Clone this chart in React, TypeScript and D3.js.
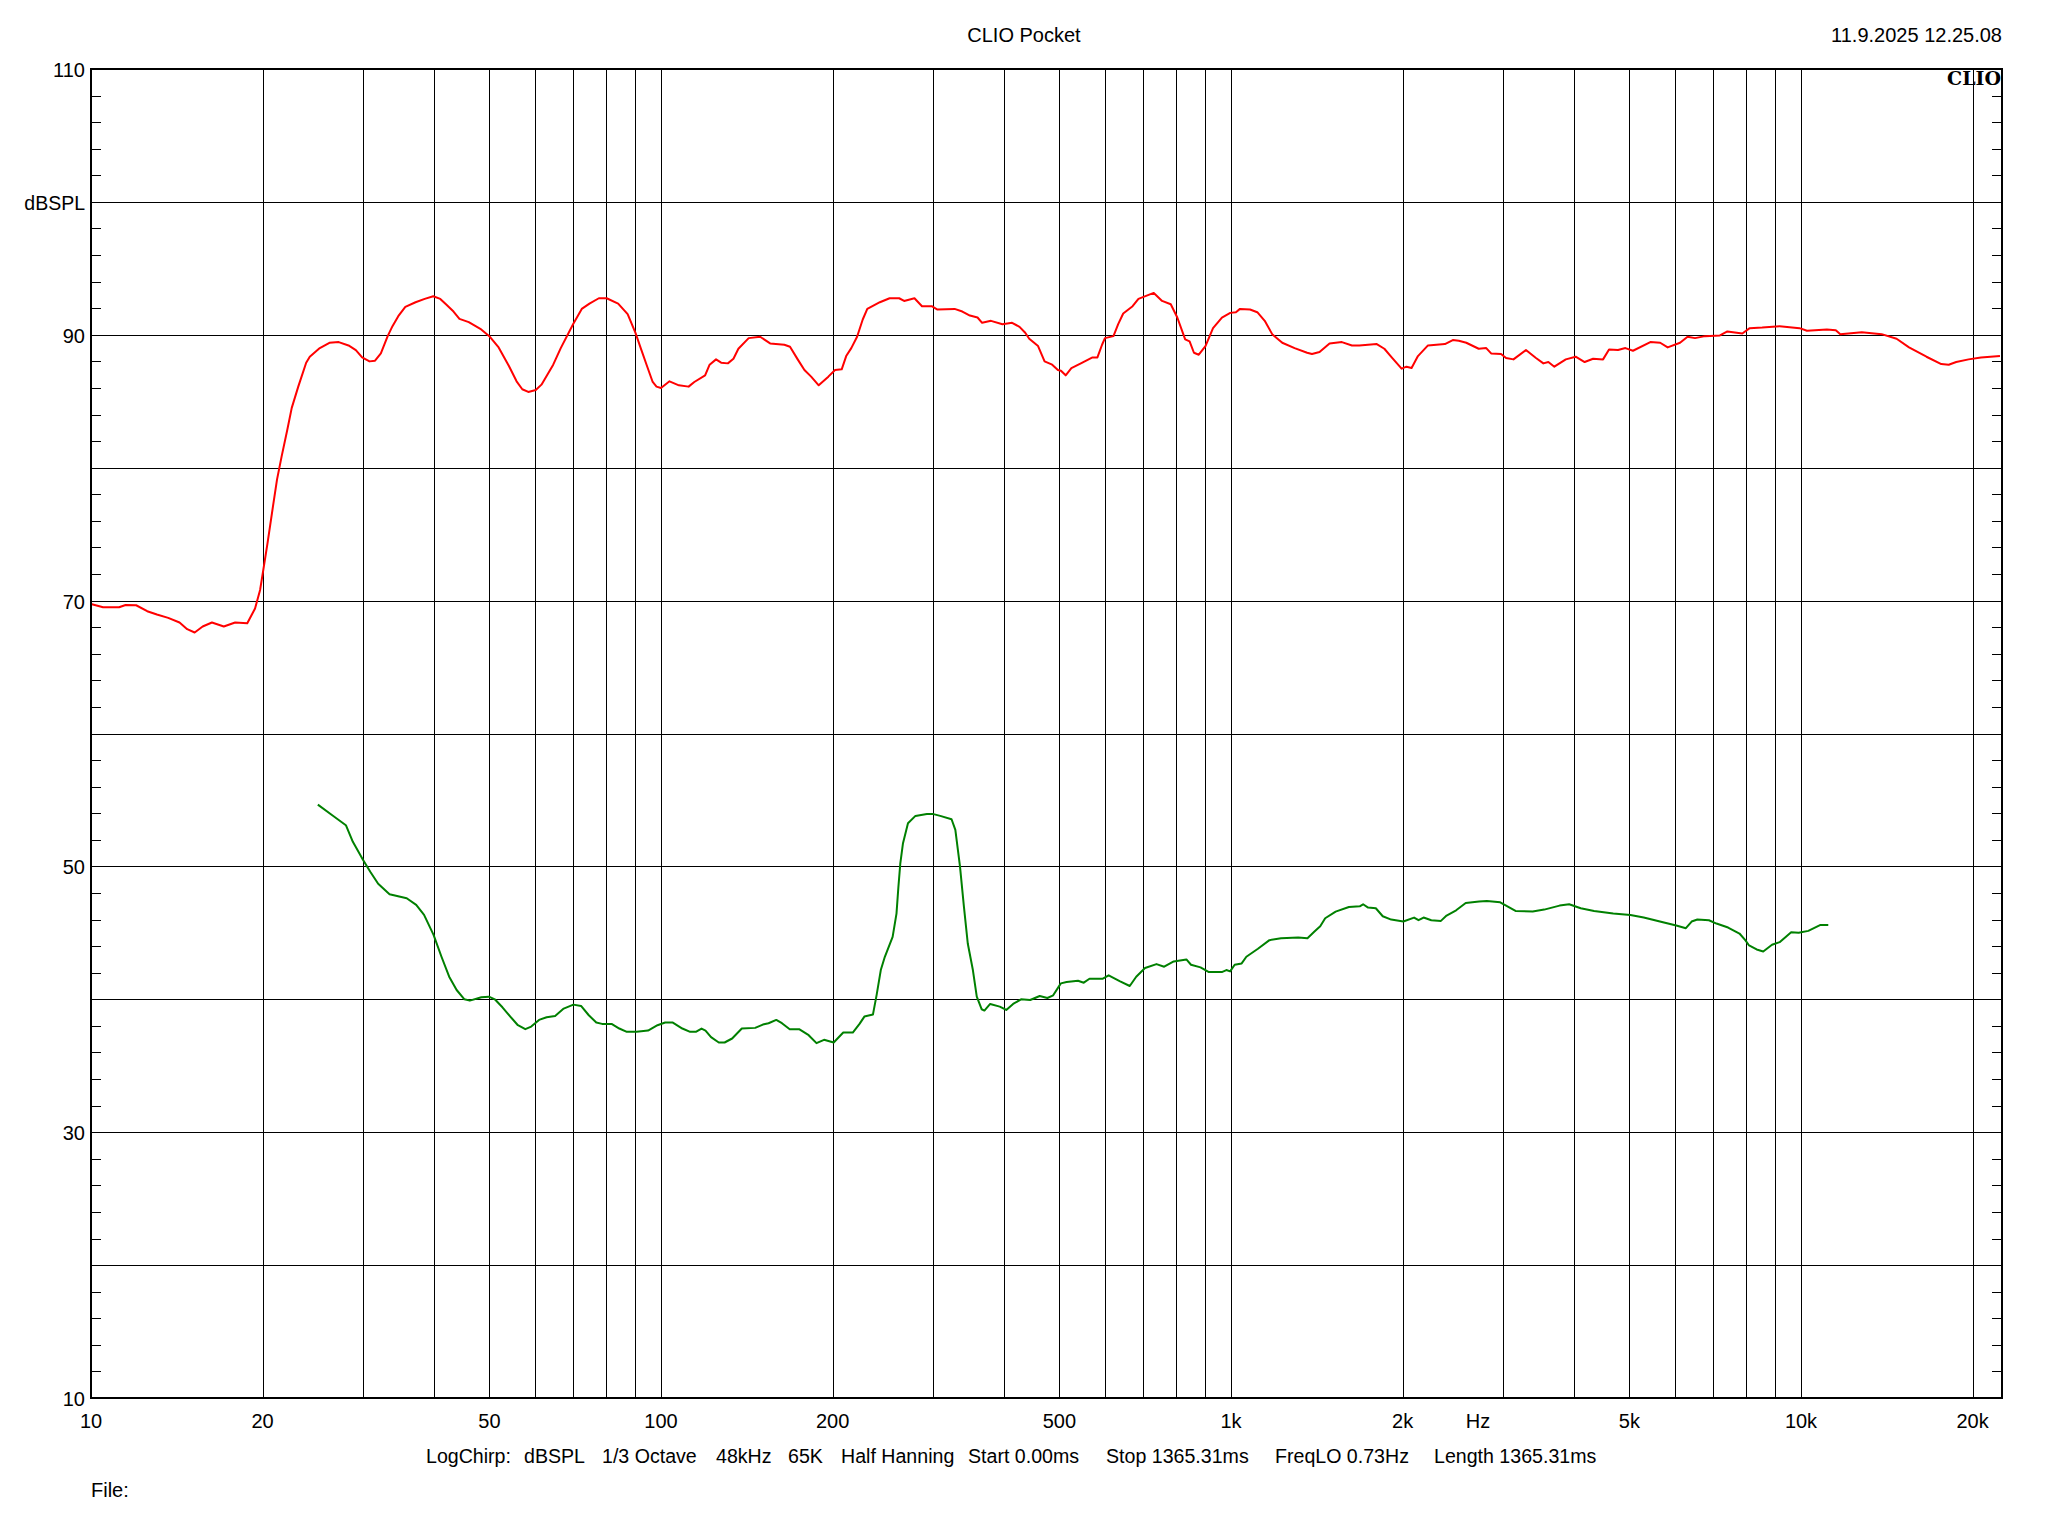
import { useEffect, useRef } from "react";
import * as d3 from "d3";

const WIDTH = 2048;
const HEIGHT = 1536;
const MARGIN = { top: 69, right: 46, bottom: 138, left: 91 };
const FONT = "'Liberation Sans', Arial, sans-serif";
const FONT_SIZE = 20;

const redHz = [
  10, 10.5, 11.2, 11.5, 12, 12.55, 13.05, 13.66, 14.3, 14.75, 15.2, 15.7, 16.3, 17.1, 17.9, 18.8, 19.4, 19.8, 20.1,
  20.4, 20.85, 21.2, 21.6, 22.1, 22.5, 23.1, 23.85, 24.2, 25.2, 26.2, 27.2, 28.3, 29.15, 29.9, 30.8, 31.5, 32.25,
  33.15, 33.8, 34.6, 35.6, 37.1, 38.5, 39.85, 41, 41.95, 43.25, 44.3, 46, 48.2, 50.1, 51.9, 54.1, 55.8, 57.1, 58.5,
  60.3, 61.7, 64.7, 66.7, 70.1, 72.6, 74.9, 77.8, 80.3, 84.1, 87.4, 90.2, 92.3, 94.5, 96.7, 98.2,
  100, 103.5, 107.5, 111.8, 114.4, 119.5, 121.7, 124.9, 127.5, 131, 134, 136.7, 142.5, 149.3, 155.4, 164.6, 168.4,
  173.7, 178.5, 183.4, 189.1, 196.6, 202, 207.5, 211.3, 215.7, 220.8, 225.9, 230.1, 242.1, 251.8, 261.7, 267, 278.4,
  287, 298.5, 305.5, 327.4, 337.8, 348.3, 359.2, 365.9, 379.3, 397.2, 413, 425.6, 435.5, 442.6, 458.7, 470.9, 485.6,
  497, 503.2, 512.8, 524.8, 545.3, 571.5, 583, 594, 601, 622, 634, 647, 672, 688, 732, 757, 784, 805, 831, 846, 861,
  878, 902, 930, 964, 997, 1020,
  1037, 1080, 1112, 1146, 1181, 1230, 1293, 1360, 1387, 1430, 1489, 1565, 1630, 1679, 1802, 1858, 1914, 1992, 2032,
  2074, 2128, 2216, 2373, 2450, 2510, 2587, 2720, 2804, 2860, 2977, 3038, 3130, 3292, 3428, 3532, 3604, 3692, 3867,
  4024, 4173, 4318, 4495, 4605, 4775, 4920, 5072, 5441, 5662, 5836, 6135, 6324, 6518, 6786, 7207, 7428, 7889, 8129,
  8549, 9173, 9940, 10245, 11102, 11510, 11721, 12783, 13849, 14713, 15471, 16600, 17624, 18160, 18720, 19680, 20690,
  22340,
];
const redDb = [
  69.75, 69.5, 69.5, 69.67, 69.65, 69.2, 68.95, 68.7, 68.35, 67.85, 67.6, 68.05, 68.35, 68.05, 68.35, 68.3, 69.4,
  70.8, 72.55, 74.3, 77.05, 79.1, 80.85, 82.85, 84.5, 86.1, 87.9, 88.35, 89, 89.4, 89.45, 89.2, 88.85, 88.3, 88,
  88.05, 88.6, 89.9, 90.65, 91.4, 92.1, 92.45, 92.7, 92.9, 92.7, 92.3, 91.75, 91.2, 90.95, 90.45, 89.85, 89.05, 87.65,
  86.5, 85.9, 85.7, 85.85, 86.25, 87.75, 89, 90.8, 91.95, 92.35, 92.75, 92.75, 92.35, 91.55, 90.15, 88.9, 87.65,
  86.45, 86.1,
  86, 86.5, 86.2, 86.1, 86.45, 86.95, 87.75, 88.15, 87.9, 87.85, 88.2, 88.95, 89.75, 89.85, 89.35, 89.25, 89.1, 88.15,
  87.35, 86.85, 86.2, 86.85, 87.35, 87.4, 88.4, 89, 89.85, 91.15, 91.95, 92.45, 92.75, 92.75, 92.55, 92.75, 92.15,
  92.15, 91.9, 91.95, 91.75, 91.45, 91.3, 90.9, 91.05, 90.8, 90.9, 90.6, 90.15, 89.7, 89.15, 88, 87.75, 87.35, 87.3,
  86.95, 87.5, 87.85, 88.3, 88.3, 89.25, 89.75, 89.9, 90.8, 91.6, 92.15, 92.7, 93.15, 92.55, 92.3, 91.3, 89.65, 89.5,
  88.65, 88.5, 89.15, 90.5, 91.3, 91.65, 91.7,
  91.95, 91.9, 91.7, 91.05, 90.05, 89.4, 89, 88.65, 88.55, 88.7, 89.35, 89.45, 89.2, 89.2, 89.3, 88.95, 88.3, 87.45,
  87.6, 87.5, 88.4, 89.2, 89.3, 89.6, 89.55, 89.4, 88.95, 89, 88.6, 88.55, 88.25, 88.15, 88.85, 88.25, 87.85, 87.95,
  87.6, 88.15, 88.35, 87.95, 88.2, 88.15, 88.9, 88.85, 89, 88.8, 89.45, 89.4, 89.05, 89.4, 89.85, 89.75, 89.9, 89.95,
  90.25, 90.1, 90.5, 90.55, 90.65, 90.5, 90.3, 90.4, 90.35, 90.05, 90.2, 90.05, 89.7, 89.05, 88.35, 87.8, 87.75,
  87.95, 88.15, 88.3, 88.4,
];

// Noise floor trace
const greenHz = [
  25, 26.5, 28, 28.8, 30, 30.9, 31.9, 33.4, 35.8, 37.2, 38.4, 39.9, 41.2, 42.5, 43.8, 45.2, 46.2, 48.4, 49.9, 51.1,
  52.7, 54.4, 56.1, 57.8, 59.2, 61.1, 63, 65.2, 67.5, 70.2, 72.4, 74.7, 77, 78.8, 81.9, 84.5, 87.1, 90.6, 94.9, 98.6,
  101.7, 104.9, 109, 112.5, 115.1, 117.8, 119.7, 122.4, 126.3, 129.3, 133.3, 138.6, 146.3, 150.9, 154.4, 159.3, 163,
  168.2, 174.7, 181.6, 187.4, 193.2, 200.9, 208.8, 217,
  223, 227.4, 235.4, 239, 243, 247, 254.9, 258.9, 260.9, 262.9, 265.8, 271.2, 279.5, 292.7, 299.5, 308.9, 323.4,
  328.4, 334.6, 340, 345.3, 352.5, 358.1, 365.3, 369.3, 378, 392.9, 403.4, 414.7, 428.2, 444.3, 461.8, 476.3, 487.6,
  502.9, 514.7, 539, 551.7, 564.6, 595.9, 610, 639, 664.3, 681.9, 706.6, 740.1, 763.4, 793.5, 835.1, 850.8, 884.2,
  914.6, 963.5, 981.5, 996.4, 1015, 1044, 1064, 1115, 1168, 1224, 1312,
  1362, 1401, 1434, 1463, 1526, 1610, 1682, 1705, 1740, 1795, 1846, 1910, 2006, 2095, 2133, 2177, 2246, 2335, 2389,
  2483, 2581, 2724, 2811, 2967, 3156, 3383, 3544, 3771, 3920, 4107, 4335, 4684, 5021, 5298, 5725, 6042, 6281, 6429,
  6579, 6894, 7107, 7449, 7800, 7984, 8108, 8360, 8585, 8895, 9172, 9610, 9907, 10300, 10820, 11165,
];
const greenDb = [
  54.65, 53.85, 53.1, 51.85, 50.5, 49.6, 48.7, 47.9, 47.6, 47.1, 46.35, 44.85, 43.2, 41.7, 40.7, 40, 39.9, 40.15, 40.2,
  40, 39.4, 38.7, 38.05, 37.75, 37.95, 38.45, 38.65, 38.75, 39.3, 39.6, 39.5, 38.8, 38.25, 38.15, 38.15, 37.8, 37.55,
  37.55, 37.65, 38.05, 38.25, 38.25, 37.8, 37.55, 37.55, 37.8, 37.65, 37.15, 36.75, 36.75, 37.05, 37.8, 37.85, 38.1,
  38.2, 38.45, 38.2, 37.75, 37.75, 37.3, 36.7, 36.95, 36.75, 37.5, 37.5,
  38.15, 38.7, 38.85, 40.35, 42.2, 43.2, 44.7, 46.45, 48.45, 50.2, 51.75, 53.25, 53.8, 53.95, 53.95, 53.8, 53.55,
  52.75, 50, 46.95, 44.2, 42.2, 40.2, 39.25, 39.15, 39.65, 39.45, 39.2, 39.65, 40, 39.95, 40.25, 40.1, 40.3, 41.2,
  41.3, 41.4, 41.25, 41.55, 41.55, 41.8, 41.35, 41, 41.7, 42.35, 42.65, 42.45, 42.85, 43, 42.6, 42.4, 42.05, 42.05,
  42.2, 42.1, 42.6, 42.7, 43.2, 43.8, 44.45, 44.6, 44.65,
  44.6, 45.1, 45.5, 46.1, 46.6, 46.95, 47, 47.15, 46.9, 46.85, 46.25, 46, 45.85, 46.15, 45.95, 46.15, 45.95, 45.9,
  46.3, 46.7, 47.25, 47.35, 47.4, 47.3, 46.65, 46.6, 46.75, 47.05, 47.15, 46.85, 46.65, 46.45, 46.35, 46.15, 45.8,
  45.55, 45.35, 45.85, 46, 45.95, 45.7, 45.4, 44.95, 44.45, 44.05, 43.75, 43.6, 44.1, 44.3, 45.05, 45, 45.15, 45.6,
  45.6,
];

const freqGrid = [
  20, 30, 40, 50, 60, 70, 80, 90, 100, 200, 300, 400, 500, 600, 700, 800, 900, 1000, 2000, 3000, 4000, 5000, 6000,
  7000, 8000, 9000, 10000, 20000,
];
const freqLabels: [number, string][] = [
  [10, "10"], [20, "20"], [50, "50"], [100, "100"], [200, "200"], [500, "500"], [1000, "1k"], [2000, "2k"],
  [5000, "5k"], [10000, "10k"], [20000, "20k"],
];
const dbGrid = [20, 30, 40, 50, 60, 70, 80, 90, 100];
const dbMinor = d3.range(12, 110, 2).filter((d) => d % 10 !== 0);
const dbLabels = [10, 30, 50, 70, 90, 110];

const footerText = [
  "LogChirp:", "dBSPL", "1/3 Octave", "48kHz", "65K", "Half Hanning", "Start 0.00ms", "Stop 1365.31ms",
  "FreqLO 0.73Hz", "Length 1365.31ms",
];
const footerX = [426, 524, 602, 716, 788, 841, 968, 1106, 1275, 1434];

export default function App() {
  const gridRef = useRef<SVGGElement>(null);
  const boundsWidth = WIDTH - MARGIN.left - MARGIN.right;
  const boundsHeight = HEIGHT - MARGIN.top - MARGIN.bottom;

  const xEnd = 10 * Math.pow(10, boundsWidth / 570);
  const xScale = d3.scaleLog().domain([10, xEnd]).range([0, boundsWidth]);
  const yScale = d3.scaleLinear().domain([10, 110]).range([boundsHeight, 0]);

  const line = (hz: number[], db: number[]) =>
    d3
      .line<number>()
      .x((d) => xScale(d))
      .y((_, i) => yScale(db[i]))(hz) ?? "";

  // Grid and ticks come from d3 axes
  useEffect(() => {
    const g = d3.select(gridRef.current);
    g.selectAll("*").remove();

    const vertical = d3
      .axisBottom(xScale)
      .tickValues(freqGrid)
      .tickSize(-boundsHeight)
      .tickFormat(() => "");
    g.append("g").attr("transform", `translate(0,${boundsHeight})`).call(vertical);

    const horizontal = d3
      .axisLeft(yScale)
      .tickValues(dbGrid)
      .tickSize(-boundsWidth)
      .tickFormat(() => "");
    g.append("g").call(horizontal);

    const minorLeft = d3
      .axisLeft(yScale)
      .tickValues(dbMinor)
      .tickSize(-10)
      .tickFormat(() => "");
    g.append("g").call(minorLeft);

    const minorRight = d3
      .axisRight(yScale)
      .tickValues(dbMinor)
      .tickSize(-10)
      .tickFormat(() => "");
    g.append("g").attr("transform", `translate(${boundsWidth},0)`).call(minorRight);

    g.selectAll(".domain").remove();
    g.selectAll("line").attr("stroke", "#000").attr("shape-rendering", "crispEdges");
  }, [boundsHeight, boundsWidth]);

  return (
    <svg
      width={WIDTH}
      height={HEIGHT}
      style={{ position: "absolute", left: 0, top: 0, background: "#fff" }}
      fontFamily={FONT}
      fontSize={FONT_SIZE}
      fill="#000"
    >
      <g transform={`translate(${MARGIN.left},${MARGIN.top})`}>
        <g ref={gridRef} />
        <path d={line(greenHz, greenDb)} fill="none" stroke="#008000" strokeWidth={2} strokeLinejoin="round" />
        <path d={line(redHz, redDb)} fill="none" stroke="#ff0000" strokeWidth={2} strokeLinejoin="round" />
        <rect
          width={boundsWidth}
          height={boundsHeight}
          fill="none"
          stroke="#000"
          strokeWidth={2.5}
          shapeRendering="crispEdges"
        />
        <text
          x={boundsWidth - 1}
          y={16}
          textAnchor="end"
          fontFamily="'DejaVu Serif', serif"
          fontWeight="bold"
          fontSize={19}
        >
          CLIO
        </text>

        {dbLabels.map((d) => (
          <text key={d} x={-6} y={yScale(d) + 8} textAnchor="end">
            {d}
          </text>
        ))}
        <text x={-6} y={yScale(100) + 8} textAnchor="end" fontSize={19.5}>
          dBSPL
        </text>

        {freqLabels.map(([f, label]) => (
          <text key={label} x={xScale(f)} y={boundsHeight + 30} textAnchor="middle">
            {label}
          </text>
        ))}
        <text x={1478 - MARGIN.left} y={boundsHeight + 30} textAnchor="middle">
          Hz
        </text>
      </g>

      <text x={1024} y={42} textAnchor="middle">
        CLIO Pocket
      </text>
      <text x={2002} y={42} textAnchor="end">
        11.9.2025 12.25.08
      </text>

      {footerText.map((t, i) => (
        <text key={t} x={footerX[i]} y={1463} fontSize={19.6}>
          {t}
        </text>
      ))}
      <text x={91} y={1497}>
        File:
      </text>
    </svg>
  );
}
